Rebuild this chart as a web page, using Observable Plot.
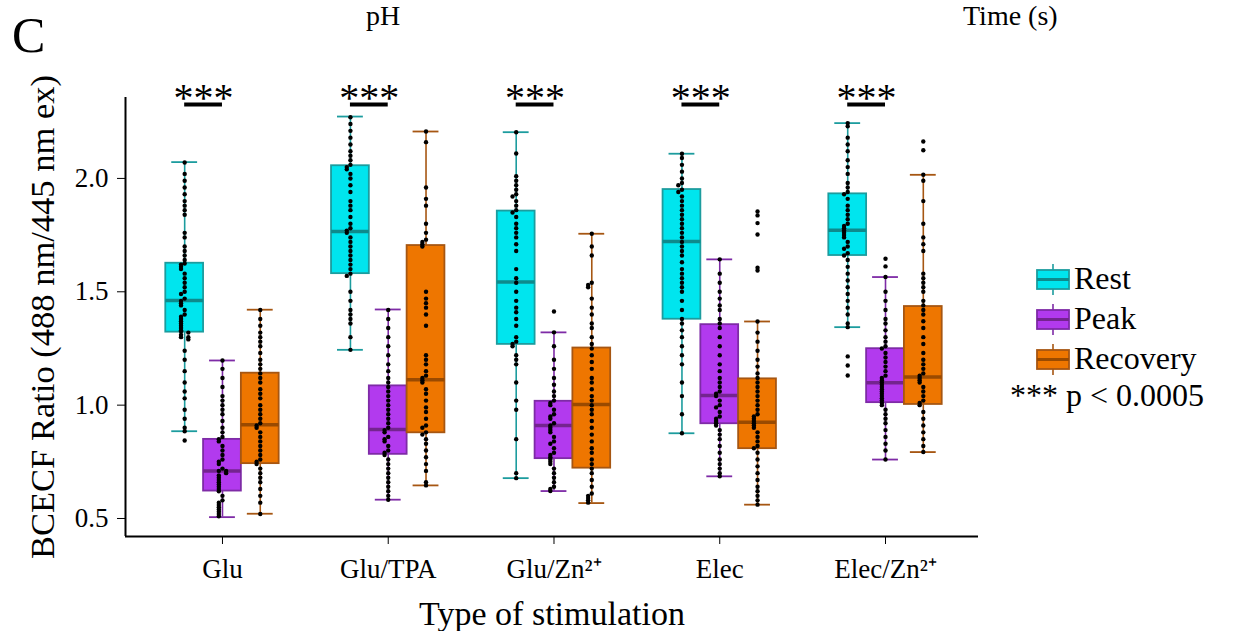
<!DOCTYPE html>
<html><head><meta charset="utf-8">
<script src="https://cdn.jsdelivr.net/npm/d3@7"></script>
<script src="https://cdn.jsdelivr.net/npm/@observablehq/plot@0.6"></script>
<style>
body{margin:0;background:#fff;font-family:"Liberation Serif",serif;}
#wrap{position:relative;width:1235px;height:631px;overflow:hidden;background:#fff;}
.abs{position:absolute;line-height:normal;white-space:nowrap;color:#000;font-family:"Liberation Serif",serif;}
g[aria-label="x-axis label"] text{font-size:34px;}
g[aria-label="y-axis label"] text{font-size:34.5px;}
</style></head><body>
<div id="wrap"></div>
<script>
// ---------- data ----------
const stimulations = ["Glu", "Glu/TPA", "Glu/Zn\u00B2\u207A", "Elec", "Elec/Zn\u00B2\u207A"];
const conditions = ["Rest", "Peak", "Recovery"];
const significance = ["***", "***", "***", "***", "***"];
const pNote = "*** p < 0.0005";

// box statistics per stimulation (order as stimulations)
const restLow    = [0.885, 1.244, 0.678, 0.876, 1.344];
const restQ1     = [1.322, 1.580, 1.268, 1.379, 1.660];
const restMedian = [1.462, 1.766, 1.543, 1.722, 1.771];
const restQ3     = [1.626, 2.056, 1.856, 1.951, 1.932];
const restHigh   = [2.072, 2.273, 2.204, 2.109, 2.244];

const peakLow    = [0.506, 0.583, 0.621, 0.686, 0.760];
const peakQ1     = [0.621, 0.783, 0.764, 0.918, 1.011];
const peakMedian = [0.709, 0.893, 0.910, 1.043, 1.099];
const peakQ3     = [0.849, 1.085, 1.017, 1.355, 1.249];
const peakHigh   = [1.197, 1.422, 1.321, 1.643, 1.565];

const recLow     = [0.521, 0.646, 0.568, 0.561, 0.793];
const recQ1      = [0.742, 0.878, 0.722, 0.808, 1.003];
const recMedian  = [0.913, 1.112, 1.003, 0.925, 1.124];
const recQ3      = [1.141, 1.704, 1.252, 1.116, 1.435];
const recHigh    = [1.421, 2.207, 1.756, 1.369, 2.016];

// individual cells
const gluRest = [2.07,2.02,1.99,1.96,1.93,1.90,1.88,1.86,1.84,1.76,1.74,1.70,1.68,1.66,1.64,1.625,1.62,1.61,1.60,1.58,1.56,1.54,1.52,1.50,1.49,1.47,1.46,1.45,1.44,1.42,1.40,1.39,1.38,1.37,1.36,1.35,1.34,1.33,1.325,1.32,1.31,1.30,1.30,1.29,1.24,1.20,1.15,1.10,1.06,1.03,0.98,0.94,0.90,0.885,0.844];
const gluPeak = [1.197,1.16,1.12,1.08,1.04,1.02,1.00,0.98,0.96,0.93,0.90,0.88,0.86,0.85,0.84,0.82,0.80,0.78,0.76,0.75,0.74,0.72,0.71,0.71,0.70,0.69,0.68,0.67,0.66,0.65,0.64,0.63,0.62,0.60,0.58,0.57,0.56,0.55,0.54,0.53,0.52,0.51];
const gluRec = [1.42,1.38,1.35,1.32,1.30,1.28,1.26,1.23,1.20,1.18,1.16,1.14,1.12,1.10,1.07,1.05,1.03,1.00,0.98,0.96,0.94,0.92,0.91,0.90,0.88,0.86,0.84,0.82,0.80,0.78,0.76,0.75,0.74,0.72,0.70,0.68,0.66,0.63,0.60,0.57,0.52];

const tpaRest = [2.27,2.24,2.21,2.18,2.15,2.12,2.10,2.08,2.06,2.05,2.04,2.02,2.00,1.97,1.94,1.90,1.88,1.86,1.83,1.80,1.78,1.77,1.76,1.74,1.72,1.70,1.68,1.66,1.64,1.62,1.60,1.58,1.57,1.50,1.46,1.42,1.40,1.38,1.36,1.30,1.244];
const tpaPeak = [1.42,1.38,1.34,1.30,1.26,1.22,1.18,1.15,1.12,1.10,1.08,1.06,1.04,1.02,1.00,0.98,0.96,0.94,0.92,0.90,0.89,0.88,0.86,0.85,0.84,0.82,0.80,0.79,0.78,0.76,0.74,0.72,0.70,0.68,0.66,0.64,0.62,0.60,0.583];
const tpaRec = [2.207,2.16,1.96,1.91,1.88,1.80,1.76,1.73,1.72,1.71,1.70,1.50,1.47,1.45,1.43,1.40,1.35,1.22,1.20,1.18,1.15,1.13,1.12,1.11,1.10,1.07,1.05,1.02,0.99,0.97,0.94,0.91,0.90,0.88,0.87,0.85,0.83,0.80,0.77,0.74,0.71,0.66,0.646];

const znRest = [2.204,2.11,2.01,1.99,1.97,1.95,1.93,1.92,1.90,1.88,1.86,1.85,1.83,1.80,1.78,1.76,1.74,1.71,1.68,1.60,1.56,1.54,1.50,1.46,1.43,1.41,1.38,1.35,1.30,1.28,1.27,1.26,1.22,1.20,1.18,1.10,1.02,0.98,0.85,0.70,0.678];
const znPeak = [1.413,1.321,1.26,1.20,1.16,1.12,1.09,1.06,1.04,1.02,1.01,1.00,0.98,0.96,0.95,0.94,0.92,0.91,0.90,0.89,0.88,0.86,0.84,0.83,0.81,0.79,0.78,0.77,0.76,0.75,0.74,0.72,0.70,0.68,0.66,0.64,0.63,0.621];
const znRec = [1.756,1.70,1.66,1.54,1.53,1.52,1.47,1.43,1.40,1.36,1.34,1.30,1.27,1.25,1.22,1.19,1.16,1.12,1.10,1.07,1.04,1.02,1.00,0.98,0.96,0.93,0.90,0.87,0.84,0.81,0.79,0.76,0.74,0.72,0.70,0.67,0.64,0.61,0.60,0.59,0.58,0.57];

const elecRest = [2.109,2.09,2.06,2.03,2.00,1.98,1.97,1.95,1.94,1.92,1.90,1.88,1.86,1.84,1.82,1.80,1.78,1.76,1.74,1.72,1.70,1.68,1.66,1.63,1.60,1.58,1.56,1.54,1.52,1.50,1.46,1.42,1.38,1.36,1.33,1.30,1.26,1.22,1.18,1.10,1.04,0.96,0.876];
const elecPeak = [1.643,1.58,1.54,1.50,1.47,1.44,1.42,1.38,1.36,1.34,1.30,1.26,1.22,1.18,1.15,1.12,1.10,1.08,1.06,1.05,1.04,1.02,1.00,0.99,0.97,0.95,0.94,0.93,0.92,0.91,0.89,0.87,0.85,0.82,0.79,0.76,0.74,0.72,0.70,0.686];
const elecRec = [1.854,1.837,1.803,1.753,1.606,1.594,1.369,1.32,1.28,1.24,1.20,1.17,1.14,1.12,1.10,1.08,1.06,1.04,1.02,1.00,0.98,0.96,0.95,0.94,0.93,0.92,0.91,0.90,0.88,0.86,0.84,0.82,0.81,0.79,0.76,0.73,0.70,0.67,0.64,0.62,0.60,0.58,0.561];

const elecZnRest = [2.244,2.23,2.18,2.15,2.12,2.08,2.05,2.02,1.98,1.96,1.94,1.93,1.91,1.88,1.86,1.84,1.82,1.80,1.79,1.78,1.77,1.76,1.75,1.74,1.72,1.70,1.69,1.67,1.66,1.64,1.61,1.58,1.55,1.52,1.49,1.46,1.43,1.40,1.36,1.344,1.215,1.175,1.131];
const elecZnPeak = [1.646,1.612,1.565,1.50,1.46,1.42,1.38,1.36,1.33,1.30,1.28,1.26,1.25,1.23,1.21,1.19,1.17,1.15,1.13,1.12,1.11,1.10,1.09,1.08,1.07,1.06,1.05,1.04,1.03,1.02,1.01,1.00,0.98,0.96,0.94,0.92,0.89,0.86,0.83,0.80,0.76];
const elecZnRec = [2.163,2.124,2.016,1.99,1.90,1.80,1.74,1.71,1.68,1.58,1.56,1.54,1.52,1.50,1.46,1.44,1.42,1.40,1.37,1.34,1.30,1.27,1.23,1.20,1.18,1.16,1.14,1.13,1.12,1.11,1.10,1.08,1.06,1.04,1.02,1.01,1.00,0.97,0.94,0.91,0.88,0.85,0.82,0.793];

// ---------- assemble ----------
const stats = {
  Rest:     {low: restLow, q1: restQ1, med: restMedian, q3: restQ3, high: restHigh},
  Peak:     {low: peakLow, q1: peakQ1, med: peakMedian, q3: peakQ3, high: peakHigh},
  Recovery: {low: recLow,  q1: recQ1,  med: recMedian,  q3: recQ3,  high: recHigh}
};
const cells = {
  Rest:     [gluRest, tpaRest, znRest, elecRest, elecZnRest],
  Peak:     [gluPeak, tpaPeak, znPeak, elecPeak, elecZnPeak],
  Recovery: [gluRec,  tpaRec,  znRec,  elecRec,  elecZnRec]
};
const style = {
  Rest:     {fill: "#00E5EE", stroke: "#1C9C9E", median: "#0E8A8C"},
  Peak:     {fill: "#B23AEE", stroke: "#7E2BA6", median: "#74248F"},
  Recovery: {fill: "#EE7600", stroke: "#A65612", median: "#9A4A00"}
};
const dodge = {Rest: -0.228, Peak: 0, Recovery: 0.228};
const halfBox = 0.114, halfCap = 0.078;

const boxes = [];
const points = [];
conditions.forEach(c => {
  stimulations.forEach((s, i) => {
    const cx = i + dodge[c];
    boxes.push({cond: c, stim: s, x: cx, low: stats[c].low[i], q1: stats[c].q1[i],
                med: stats[c].med[i], q3: stats[c].q3[i], high: stats[c].high[i]});
    const placed = [];
    cells[c][i].forEach(v => {
      const k = placed.filter(p => Math.abs(p - v) < 0.011).length;
      const side = [0, -1, 1, -2, 2][k % 5];
      placed.push(v);
      points.push({cond: c, x: cx + side * 0.022, v});
    });
  });
});
const sigRows = stimulations.map((s, i) => ({i, label: significance[i]}));
const sigY = 2.326;

const xDomain = [-0.585, 4.561];
const yDomain = [0.4206, 2.357];

const marks = [];
conditions.forEach(c => {
  const b = boxes.filter(d => d.cond === c);
  const st = style[c];
  marks.push(
    Plot.ruleX(b, {x: "x", y1: "low", y2: "high", stroke: st.stroke, strokeWidth: 1.6}),
    Plot.ruleY(b, {y: "low", x1: d => d.x - halfCap, x2: d => d.x + halfCap, stroke: st.stroke, strokeWidth: 1.8}),
    Plot.ruleY(b, {y: "high", x1: d => d.x - halfCap, x2: d => d.x + halfCap, stroke: st.stroke, strokeWidth: 1.8}),
    Plot.rect(b, {x1: d => d.x - halfBox, x2: d => d.x + halfBox, y1: "q1", y2: "q3", fill: st.fill, stroke: st.stroke, strokeWidth: 1.8}),
    Plot.ruleY(b, {y: "med", x1: d => d.x - halfBox, x2: d => d.x + halfBox, stroke: st.median, strokeWidth: 3.5})
  );
});
marks.push(
  Plot.dot(points, {x: "x", y: "v", r: 2.2, fill: "black", stroke: "none"}),
  Plot.ruleY(sigRows, {y: () => sigY, x1: d => d.i + dodge.Rest, x2: d => d.i + dodge.Peak, stroke: "black", strokeWidth: 4}),
  Plot.text(sigRows, {x: d => d.i + (dodge.Rest + dodge.Peak) / 2, y: () => sigY, text: "label", fontSize: 40, dy: 6, lineAnchor: "bottom", fill: "black"}),
  Plot.axisX({ticks: d3.range(stimulations.length), tickFormat: i => stimulations[i], tickSize: 8, tickPadding: 14,
              fontSize: 27, label: "Type of stimulation", labelAnchor: "center", labelArrow: "none", labelOffset: 88}),
  Plot.axisY({ticks: [0.5, 1.0, 1.5, 2.0], tickFormat: d3.format(".1f"), tickSize: 8, tickPadding: 9,
              fontSize: 27, label: "BCECF Ratio (488 nm/445 nm ex)", labelAnchor: "center", labelArrow: "none", labelOffset: 96}),
  Plot.ruleY([yDomain[0]], {stroke: "black", strokeWidth: 2}),
  Plot.ruleX([xDomain[0]], {stroke: "black", strokeWidth: 2})
);

const chart = Plot.plot({
  width: 1235, height: 631,
  marginLeft: 125, marginRight: 257, marginTop: 97, marginBottom: 95,
  style: {fontFamily: "Liberation Serif, serif", fontSize: "27px", color: "black", background: "white"},
  x: {type: "linear", domain: xDomain},
  y: {type: "linear", domain: yDomain},
  marks
});
const wrap = document.getElementById("wrap");
wrap.appendChild(chart);

// ---------- panel texts ----------
function addText(txt, left, top, size) {
  const d = document.createElement("div");
  d.className = "abs";
  d.style.fontSize = size + "px";
  d.style.left = left + "px";
  d.style.top = top + "px";
  d.textContent = txt;
  wrap.appendChild(d);
}
addText("C", 12, 6, 50);
addText("pH", 366, 0, 28);
addText("Time (s)", 963, 0, 28);

// ---------- legend ----------
const leg = d3.select(wrap).append("svg")
  .attr("width", 235).attr("height", 175)
  .style("position", "absolute").style("left", "1000px").style("top", "250px")
  .style("font-family", "Liberation Serif, serif");
conditions.forEach((c, k) => {
  const st = style[c];
  const top = 20 + k * 40;
  const g = leg.append("g");
  g.append("line").attr("x1", 53).attr("x2", 53).attr("y1", top - 6).attr("y2", top + 25).attr("stroke", st.stroke).attr("stroke-width", 1.6);
  g.append("rect").attr("x", 37).attr("y", top).attr("width", 32).attr("height", 19).attr("fill", st.fill).attr("stroke", st.stroke).attr("stroke-width", 1.8);
  g.append("line").attr("x1", 37).attr("x2", 69).attr("y1", top + 9.5).attr("y2", top + 9.5).attr("stroke", st.median).attr("stroke-width", 3);
  g.append("text").attr("x", 74).attr("y", top + 19).attr("font-size", 32).text(c);
});
leg.append("text").attr("x", 10).attr("y", 156).attr("font-size", 32).text(pNote);
</script>
</body></html>
